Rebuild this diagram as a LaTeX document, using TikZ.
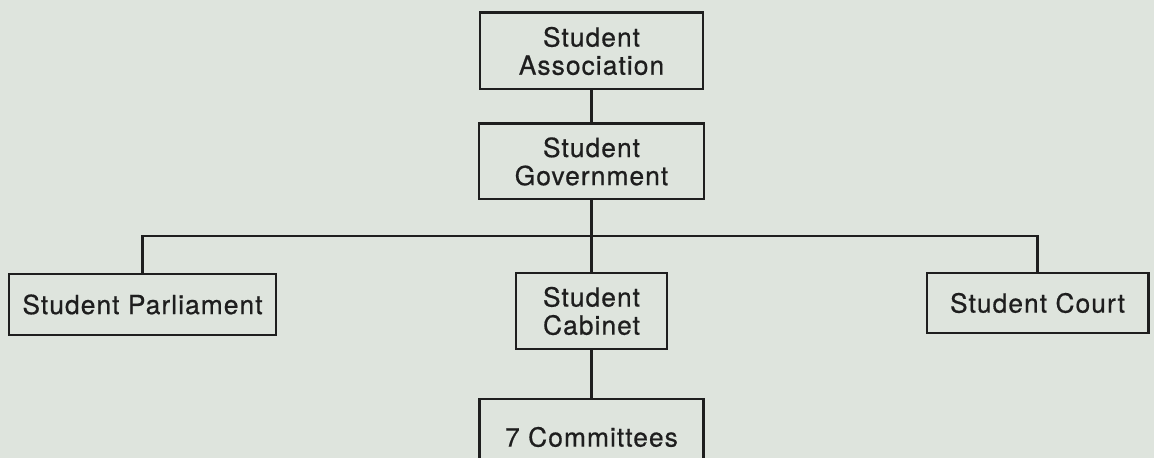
\documentclass[tikz,border=0pt]{standalone}
\usepackage{fontspec}
\setmainfont{TeX Gyre Heros}[LetterSpace=4,FakeBold=0.6]
\definecolor{paper}{RGB}{222,228,221}
\definecolor{ink}{RGB}{30,30,30}
\begin{document}
\begin{tikzpicture}[inner sep=0pt,outer sep=0pt,line width=1.7pt,color=ink,
orgbox/.style={draw,rectangle,align=center,font=\fontsize{15}{16}\selectfont,line width=1.7pt}]
\fill[paper] (0,0) rectangle (23.08,-9.16);
\clip (0,0) rectangle (23.08,-9.16);
\draw (11.83,-1.02) node[orgbox,minimum width=4.46cm,minimum height=1.52cm] (assoc) {Student\\Association};
\draw (11.83,-3.23) node[orgbox,minimum width=4.5cm,minimum height=1.5cm] (govt) {Student\\Government};
\draw (2.85,-6.09) node[orgbox,minimum width=5.34cm,minimum height=1.22cm] (parl) {Student Parliament};
\draw (11.83,-6.22) node[orgbox,minimum width=3.02cm,minimum height=1.52cm] (cab) {Student\\Cabinet};
\draw (20.75,-6.06) node[orgbox,minimum width=4.42cm,minimum height=1.2cm] (court) {Student Court};
\draw (11.83,-8.74) node[orgbox,minimum width=4.48cm,minimum height=1.52cm] (comm) {7 Committees};
\coordinate (bus) at (11.83,-4.72);
\draw (assoc) -- (govt);
\draw (govt) -- (cab);
\draw (parl.north) |- (bus) -| (court.north);
\draw (cab) -- (comm);
\end{tikzpicture}
\end{document}
